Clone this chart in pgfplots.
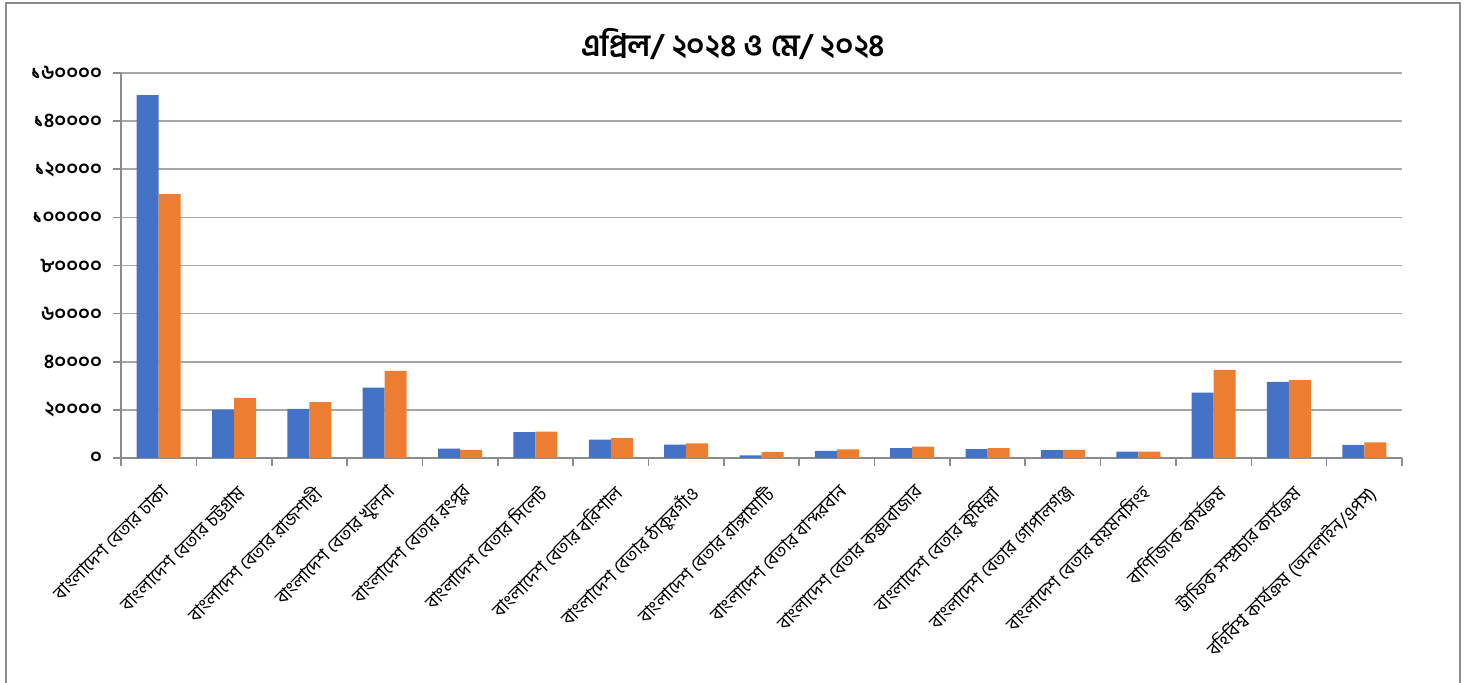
\documentclass[border=0pt]{standalone}
\usepackage{fontspec}
\setmainfont{Hind Siliguri}[Script=Bengali]
\usepackage{pgfplots}
\pgfplotsset{compat=1.18}
\usepackage{pgfplotstable}

\definecolor{xlblue}{HTML}{4472C4}
\definecolor{xlorange}{HTML}{ED7D31}
\definecolor{gridgray}{HTML}{A6A6A6}
\definecolor{axisgray}{HTML}{8C8C8C}

% cat: 0..16, april, may
\pgfplotstableread{
cat april may
0  150800 109700
1  20100  25000
2  20400  23200
3  29200  36200
4  3900   3400
5  10800  11000
6  7600   8300
7  5600   6100
8  1100   2500
9  3000   3600
10 4100   4700
11 3700   4100
12 3300   3400
13 2600   2600
14 27200  36600
15 31600  32400
16 5500   6500
}\datatable

\begin{document}
\begin{tikzpicture}
% page = 1473 x 683 px at 0.5pt per px, axis origin at px (121,458)
\useasboundingbox (-60.5pt,-112.5pt) rectangle (676pt,229pt);
\draw[axisgray, line width=1pt] (-57.5pt,-115pt) -- (-57.5pt,227.5pt) -- (669.5pt,227.5pt) -- (669.5pt,-115pt);
\begin{axis}[
    scale only axis,
    width=640.5pt, height=192.5pt,
    at={(0,0)}, anchor=south west,
    ybar=0pt, bar width=11pt,
    xmin=-0.5, xmax=16.5,
    ymin=0, ymax=160000,
    scaled y ticks=false,
    axis x line*=bottom, axis y line*=left,
    axis line style={axisgray, line width=1pt, -},
    xtick={0,...,16},
    major x tick style={draw=none},
    minor xtick={-0.5,0.5,...,16.5},
    minor x tick style={axisgray, line width=0.8pt},
    minor tick length=4pt,
    xticklabels={
      {বাংলাদেশ বেতার ঢাকা},
      {বাংলাদেশ বেতার চট্টগ্রাম},
      {বাংলাদেশ বেতার রাজশাহী},
      {বাংলাদেশ বেতার খুলনা},
      {বাংলাদেশ বেতার রংপুর},
      {বাংলাদেশ বেতার সিলেট},
      {বাংলাদেশ বেতার বরিশাল},
      {বাংলাদেশ বেতার ঠাকুরগাঁও},
      {বাংলাদেশ বেতার রাঙ্গামাটি},
      {বাংলাদেশ বেতার বান্দরবান},
      {বাংলাদেশ বেতার কক্সবাজার},
      {বাংলাদেশ বেতার কুমিল্লা},
      {বাংলাদেশ বেতার গোপালগঞ্জ},
      {বাংলাদেশ বেতার ময়মনসিংহ},
      {বাণিজ্যিক কার্যক্রম},
      {ট্রাফিক সম্প্রচার কার্যক্রম},
      {বহির্বিশ্ব কার্যক্রম (অনলাইন/এপস)}
    },
    xticklabel style={xshift=1pt, yshift=-7pt, rotate=45, anchor=north east, font=\fontsize{9.3}{11}\selectfont, inner sep=1pt},
    ytick={0,20000,40000,60000,80000,100000,120000,140000,160000},
    yticklabels={০,২০০০০,৪০০০০,৬০০০০,৮০০০০,১০০০০০,১২০০০০,১৪০০০০,১৬০০০০},
    yticklabel style={font=\fontsize{10}{11}\selectfont\bfseries, xshift=-2pt},
    y tick style={axisgray, line width=0.8pt},
    major tick length=4pt,
    tick align=outside,
    ymajorgrids=true,
    grid style={gridgray, line width=0.8pt},
    title={এপ্রিল/ ২০২৪ ও মে/ ২০২৪},
    title style={at={(axis description cs:0.478,1.045)}, anchor=center, font=\fontsize{15.5}{17}\selectfont\bfseries},
]
\addplot[fill=xlblue, draw=none] table[x=cat, y=april] {\datatable};
\addplot[fill=xlorange, draw=none] table[x=cat, y=may] {\datatable};
\end{axis}
\end{tikzpicture}
\end{document}
